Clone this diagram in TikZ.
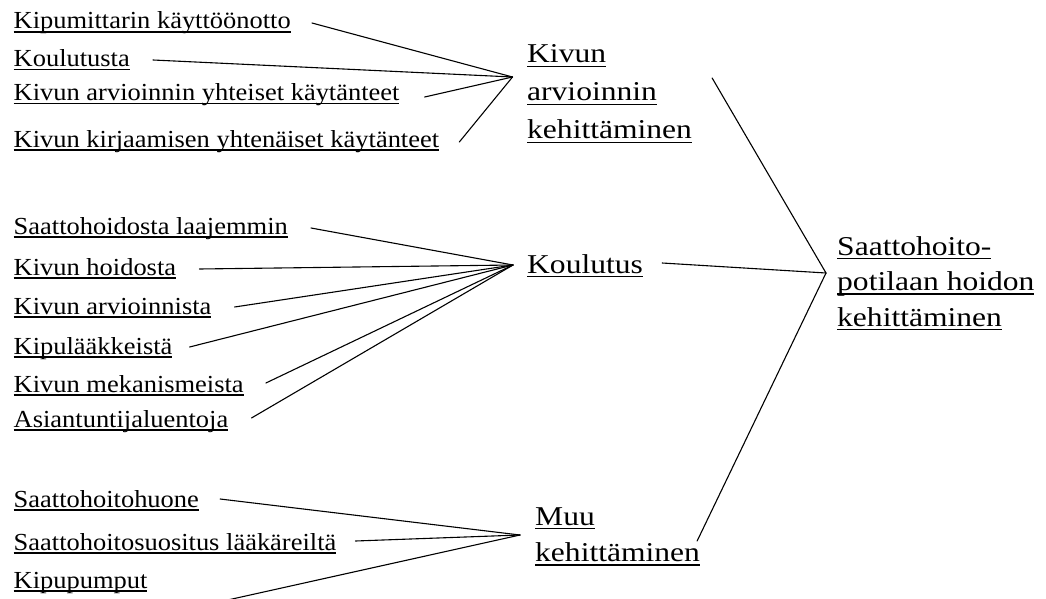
\documentclass[tikz,border=0pt]{standalone}
\usepackage{fontspec}
\setmainfont{Liberation Serif}
\newcommand\myul[1]{\setbox0=\hbox{#1}\rlap{\rule[-0.16em]{\wd0}{0.06em}}\box0}
\newcommand\smf{\fontsize{24.5}{30}\selectfont}
\newcommand\sm[1]{\scalebox{1.08}[1]{\myul{#1}}}
\newcommand\bg[1]{\scalebox{1.16}[1]{\myul{#1}}}
\tikzset{
  lbl/.style={anchor=base west, inner sep=0pt, font=\smf},
  big/.style={anchor=base west, inner sep=0pt, align=left, font=\fontsize{27.2}{#1}\selectfont},
  conn/.style={line width=1.1pt, line cap=round}
}
\begin{document}
\begin{tikzpicture}[x=1pt,y=-1pt]
\useasboundingbox (0,0) rectangle (1046,599);
% top group
\node[lbl] (k1) at (13.5,29) {\sm{Kipumittarin käyttöönotto}};
\node[lbl] (k2) at (13.5,66.5) {\sm{Koulutusta}};
\node[lbl] (k3) at (13.5,100.5) {\sm{Kivun arvioinnin yhteiset käytänteet}};
\node[lbl] (k4) at (13.5,147) {\sm{Kivun kirjaamisen yhtenäiset käytänteet}};
% middle group
\node[lbl] (m1) at (13.5,234) {\sm{Saattohoidosta laajemmin}};
\node[lbl] (m2) at (13.5,275) {\sm{Kivun hoidosta}};
\node[lbl] (m3) at (13.5,314) {\sm{Kivun arvioinnista}};
\node[lbl] (m4) at (13.5,354) {\sm{Kipulääkkeistä}};
\node[lbl] (m5) at (13.5,392) {\sm{Kivun mekanismeista}};
\node[lbl] (m6) at (13.5,427) {\sm{Asiantuntijaluentoja}};
% bottom group
\node[lbl] (b1) at (13.5,507) {\sm{Saattohoitohuone}};
\node[lbl] (b2) at (13.5,550) {\sm{Saattohoitosuositus lääkäreiltä}};
\node[lbl] (b3) at (13.5,588) {\sm{Kipupumput}};
% category nodes (base = baseline of last line)
\node[big=38] (KA) at (527,139) {\bg{Kivun}\\\bg{arvioinnin}\\\bg{kehittäminen}};
\node[big=38] (KO) at (527,273) {\bg{Koulutus}};
\node[big=36.5] (MU) at (535,561.5) {\bg{Muu}\\\bg{kehittäminen}};
\node[big=35.5] (ST) at (837,326) {\bg{Saattohoito-}\\\bg{potilaan hoidon}\\\bg{kehittäminen}};
% convergence points
\coordinate (A) at (512.5,77);
\coordinate (B) at (513,265);
\coordinate (D) at (520,535);
\coordinate (C) at (826,273);
% connectors top
\draw[conn] ([shift={(21pt,6pt)}]k1.base east) -- (A);
\draw[conn] ([shift={(23pt,6.5pt)}]k2.base east) -- (A);
\draw[conn] ([shift={(25pt,3.5pt)}]k3.base east) -- (A);
\draw[conn] ([shift={(20pt,5pt)}]k4.base east) -- (A);
% connectors middle
\draw[conn] ([shift={(23pt,6pt)}]m1.base east) -- (B);
\draw[conn] ([shift={(23pt,6pt)}]m2.base east) -- (B);
\draw[conn] ([shift={(23pt,7pt)}]m3.base east) -- (B);
\draw[conn] ([shift={(17pt,7pt)}]m4.base east) -- (B);
\draw[conn] ([shift={(22pt,9pt)}]m5.base east) -- (B);
\draw[conn] ([shift={(23pt,9pt)}]m6.base east) -- (B);
% connectors bottom
\draw[conn] ([shift={(21pt,8pt)}]b1.base east) -- (D);
\draw[conn] ([shift={(19pt,9pt)}]b2.base east) -- (D);
\draw[conn] ([shift={(80pt,-12pt)}]b3.base east) -- (D);
% connectors to the goal
\draw[conn] ([shift={(20pt,61pt)}]KA.base east) -- (C);
\draw[conn] ([shift={(19pt,10pt)}]KO.base east) -- (C);
\draw[conn] ([shift={(-3pt,20.5pt)}]MU.base east) -- (C);
\end{tikzpicture}
\end{document}
